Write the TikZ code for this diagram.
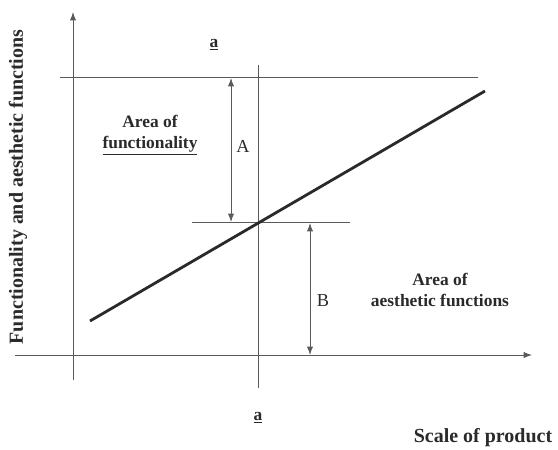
\documentclass[tikz,border=0pt]{standalone}
\usepackage{fontspec}
\setmainfont{Liberation Serif}
\usetikzlibrary{arrows.meta, positioning}
\definecolor{axiscol}{HTML}{5A5A5A}
\definecolor{inkcol}{HTML}{2A2A2A}

\begin{document}
\begin{tikzpicture}[
    x=0.025cm, y=-0.025cm,
    every node/.style={font=\bfseries, text=inkcol},
    thin line/.style={draw=axiscol, line width=0.7pt},
    axis/.style={thin line, -{Latex[length=6pt, width=4.5pt]}},
    span/.style={thin line, {Latex[length=6pt, width=4.5pt]}-{Latex[length=6pt, width=4.5pt]}},
    lab/.style={font=\bfseries\fontsize{12.4}{14.5}\selectfont, align=center},
    big/.style={font=\bfseries\fontsize{14.2}{16}\selectfont},
    letter/.style={font=\fontsize{13}{15}\selectfont},
]
\useasboundingbox (0,0) rectangle (558,449);

% ---------------- axes
\coordinate (y0) at (73,380);
\coordinate (y1) at (73,12);
\coordinate (x0) at (15,355);
\coordinate (x1) at (532,355);
\draw[axis] (y0) -- (y1);
\draw[axis] (x0) -- (x1);

% ---------------- guide lines
\coordinate (top l) at (60,77);
\coordinate (top r) at (478,77);
\coordinate (mid l) at (192,222);
\coordinate (mid r) at (350,222);
\coordinate (v top) at (258,65);
\coordinate (v bot) at (258,388);
\draw[thin line] (top l) -- (top r);
\draw[thin line] (mid l) -- (mid r);
\draw[thin line] (v top) -- (v bot);

% ---------------- product line
\coordinate (p0) at (90,321);
\coordinate (p1) at (485,91);
\draw[draw=inkcol, line width=2pt] (p0) -- (p1);

% ---------------- spans A and B
\coordinate (A top) at (231,78);
\coordinate (A bot) at (231,222);
\coordinate (B top) at (310,223);
\coordinate (B bot) at (310,355);
\draw[span] (A top) -- (A bot);
\draw[span] (B top) -- (B bot);
\node[letter] (A) at (243,146) {A};
\node[letter] (B) at (323,301) {B};

% ---------------- labels
\node[lab] (func) at (150,135) {Area of\\ \underline{functionality}};
\node[lab] (aest) at (440,290) {Area of\\ aesthetic functions};
\node[lab] (a top) at (214,45) {\underline{a}};
\node[lab] (a bot) at (258,418) {\underline{a}};
\node[big] (xlab) at (483,438) {Scale of product};
\node[big, rotate=90] (ylab) at (18,187) {Functionality and aesthetic functions};

\end{tikzpicture}
\end{document}
